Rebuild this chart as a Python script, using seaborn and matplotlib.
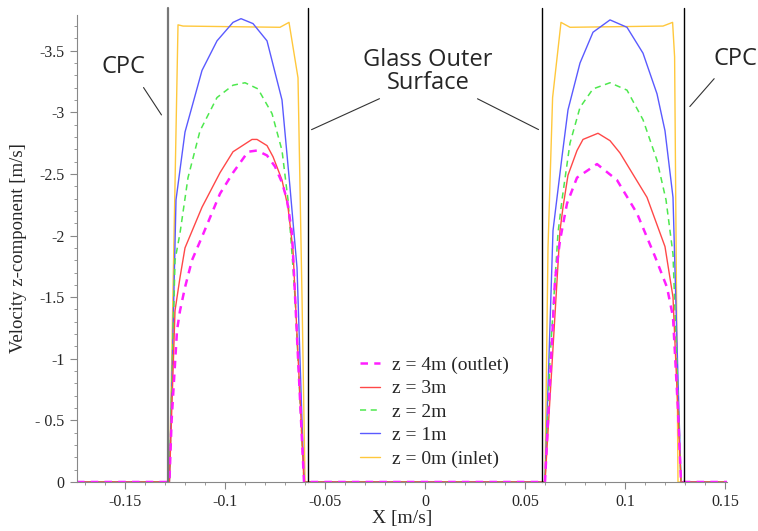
import pandas as pd
import matplotlib.pyplot as plt
import seaborn as sns

# радиальные профили скорости (x в м, v_z в м/с)
x_z0 = [-0.174, -0.1278, -0.1235, -0.121, -0.0725, -0.068, -0.0635, -0.0615, -0.0600,
        0.0600, 0.0615, 0.0638, 0.068, 0.0725, 0.119, 0.1238, 0.1248, 0.1265, 0.151]
v_z0 = [0, 0, -3.71, -3.70, -3.69, -3.73, -3.28, -1.5, 0,
        0, -1.9, -3.12, -3.73, -3.69, -3.70, -3.73, -3.45, 0, 0]

x_z1 = [-0.174, -0.1278, -0.1263, -0.1245, -0.120, -0.1115, -0.104, -0.096, -0.092, -0.086,
        -0.079, -0.0715, -0.0675, -0.064, -0.0605,
        0.060, 0.064, 0.0685, 0.0715, 0.0775, 0.084, 0.0925, 0.101, 0.109, 0.116,
        0.120, 0.124, 0.126, 0.128, 0.151]
v_z1 = [0, 0, -1.0, -2.29, -2.84, -3.34, -3.58, -3.73, -3.76, -3.72,
        -3.58, -3.10, -2.39, -1.74, 0,
        0, -2.04, -2.64, -3.02, -3.40, -3.65, -3.75, -3.69, -3.48, -3.15,
        -2.85, -2.31, -1.13, 0, 0]

x_z2 = [-0.174, -0.1278, -0.125, -0.1225, -0.1185, -0.1125, -0.104, -0.096, -0.090, -0.0835,
        -0.0765, -0.0715, -0.0685, -0.066, -0.065, -0.0605,
        0.060, 0.0625, 0.0665, 0.0685, 0.0725, 0.0775, 0.084, 0.0925, 0.101, 0.109,
        0.116, 0.1205, 0.124, 0.128, 0.151]
v_z2 = [0, 0, -1.8, -2.02, -2.47, -2.85, -3.12, -3.22, -3.24, -3.19,
        -2.99, -2.69, -2.29, -1.74, -1.5, 0,
        0, -1.0, -2.02, -2.29, -2.75, -3.04, -3.19, -3.24, -3.18, -2.94,
        -2.61, -2.29, -1.85, 0, 0]

x_z3 = [-0.174, -0.1278, -0.125, -0.1225, -0.120, -0.1115, -0.1025, -0.096, -0.0865, -0.084,
        -0.079, -0.076, -0.0715, -0.0685, -0.066, -0.0605,
        0.060, 0.0675, 0.069, 0.0715, 0.076, 0.079, 0.0865, 0.0925, 0.0975, 0.111,
        0.120, 0.124, 0.128, 0.151]
v_z3 = [0, 0, -1.39, -1.66, -1.90, -2.23, -2.51, -2.68, -2.78, -2.78,
        -2.73, -2.64, -2.45, -2.23, -1.88, 0,
        0, -2.04, -2.23, -2.49, -2.69, -2.78, -2.83, -2.77, -2.67, -2.31,
        -1.91, -1.50, 0, 0]

x_z4 = [-0.174, -0.1278, -0.1267, -0.124, -0.1225, -0.120, -0.1165, -0.1115, -0.1025, -0.096,
        -0.0885, -0.084, -0.079, -0.075, -0.0715, -0.069, -0.0665, -0.0605,
        0.060, 0.065, 0.0675, 0.071, 0.076, 0.086, 0.096, 0.106,
        0.115, 0.121, 0.124, 0.1265, 0.128, 0.151]
v_z4 = [0, 0, -0.5, -1.23, -1.39, -1.58, -1.80, -1.99, -2.34, -2.51,
        -2.68, -2.69, -2.65, -2.56, -2.43, -2.29, -2.02, 0,
        0, -1.64, -1.96, -2.26, -2.47, -2.58, -2.45, -2.18,
        -1.83, -1.58, -1.34, -0.58, 0, 0]

labels = ['z = 0m (inlet)', 'z = 1m', 'z = 2m', 'z = 3m', 'z = 4m (outlet)']

# положения стенок: CPC и внешняя поверхность стекла
walls_cpc = [-0.1287, 0.1295]
walls_glass = [-0.0583, 0.0583]

sns.set_style('white')
plt.rcParams['font.family'] = ['Liberation Serif', 'DejaVu Serif']
plt.rcParams['axes.unicode_minus'] = False

fig = plt.figure(figsize=(7.58, 5.31), dpi=100)
ax = fig.add_axes([0.1016, 0.0923, 0.8575, 0.8795])

series = [(x_z0, v_z0, '#ffc83c', '-', 1.0),
          (x_z1, v_z1, '#5a5aff', '-', 1.0),
          (x_z2, v_z2, '#4ee84e', (0, (4, 3)), 1.1),
          (x_z3, v_z3, '#ff4848', '-', 1.0),
          (x_z4, v_z4, '#ff1eff', (0, (3, 2.5)), 1.8)]

for (xs, vs, c, ls, lw), lab in zip(series, labels):
    df = pd.DataFrame({'x': xs, 'v': vs})
    sns.lineplot(data=df, x='x', y='v', ax=ax, color=c, linestyle=ls, linewidth=lw,
                 sort=False, estimator=None, label=lab)

ax.axvline(walls_cpc[0], ymax=1.015, color='#777777', lw=1.6, clip_on=False)
ax.axvline(walls_cpc[1], ymax=1.015, color='black', lw=1.0, clip_on=False)
for w in walls_glass:
    ax.axvline(w, ymax=1.015, color='black', lw=1.0, clip_on=False)

ax.set_xlim(-0.174, 0.151)
ax.set_ylim(0, -3.79)
ax.set_xticks([-0.15, -0.1, -0.05, 0, 0.05, 0.1, 0.15])
ax.set_xticklabels(['-0.15', '-0.1', '-0.05', '0', '0.05', '0.1', '0.15'])
ax.set_yticks([0, -0.5, -1, -1.5, -2, -2.5, -3, -3.5])
ax.set_yticklabels(['0', '- 0.5', '-1', '-1.5', '-2', '-2.5', '-3', '-3.5'])
ax.minorticks_on()
ax.tick_params(which='both', bottom=True, left=True, direction='out', color='#888888')
ax.tick_params(which='major', length=5, width=0.8, labelsize=11.5, pad=4)
ax.tick_params(which='minor', length=2.5, width=0.6)
for s in ['top', 'right']:
    ax.spines[s].set_visible(False)
for s in ['left', 'bottom']:
    ax.spines[s].set_color('#888888')

ax.set_xlabel('X [m/s]', fontsize=14, labelpad=0)
ax.set_ylabel('Velocity z-component [m/s]', fontsize=13.5, labelpad=6)

# подписи стенок
ann = dict(family=['Open Sans', 'DejaVu Sans'], fontsize=17, ha='center', va='center')
ax.text(-0.1508, -3.37, 'CPC', **ann)
ax.text(0.155, -3.43, 'CPC', **ann)
ax.text(0.0015, -3.33, 'Glass Outer\nSurface', linespacing=0.95, **ann)
line = dict(arrowstyle='-', color='#333333', lw=0.8)
ax.annotate('', xy=(-0.131, -2.96), xytext=(-0.1415, -3.22), arrowprops=line)
ax.annotate('', xy=(0.1315, -3.03), xytext=(0.1455, -3.29), arrowprops=line)
ax.annotate('', xy=(-0.058, -2.85), xytext=(-0.0215, -3.12), arrowprops=line)
ax.annotate('', xy=(0.058, -2.85), xytext=(0.025, -3.12), arrowprops=line)

h, l = ax.get_legend_handles_labels()
ax.legend(h[::-1], l[::-1], loc='upper left', bbox_to_anchor=(0.42, 0.29), frameon=False,
          fontsize=14, handlelength=1.05, labelspacing=0.3, handletextpad=0.6, borderpad=0)

fig.savefig('out.png', dpi=100)
